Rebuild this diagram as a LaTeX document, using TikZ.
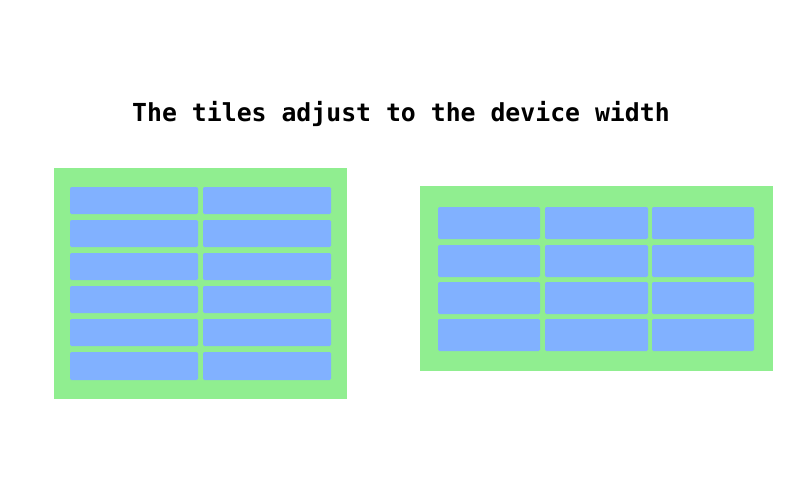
\documentclass[tikz,border=0pt]{standalone}
\usepackage{fontspec}
\setmonofont{DejaVu Sans Mono}
\usepackage{xcolor}
\definecolor{panelgreen}{RGB}{144,238,144}
\definecolor{tileblue}{RGB}{129,177,255}

\begin{document}
\begin{tikzpicture}[x=0.75pt,y=0.75pt,yscale=-1,xscale=1,
  panel/.style={fill=panelgreen,draw=none},
  tile/.style={fill=tileblue,draw=none,rounded corners=1}]
%set diagram left start at 0, and has height of 500
\path (0,0) rectangle (800,500);

% Text Node
\node (title) at (401,114) {\fontsize{18.6}{22}\selectfont\ttfamily\bfseries The tiles adjust to the device width};

%Shape: Rectangle [narrow device]
\fill [panel] (54,168) rectangle (347,399);
%Shape: Rectangle [narrow tiles, left column]
\fill [tile] (70,187) rectangle (198,214);
\fill [tile] (70,220) rectangle (198,247);
\fill [tile] (70,253) rectangle (198,280);
\fill [tile] (70,286) rectangle (198,313);
\fill [tile] (70,319) rectangle (198,346);
\fill [tile] (70,352) rectangle (198,380);
%Shape: Rectangle [narrow tiles, right column]
\fill [tile] (203,187) rectangle (331,214);
\fill [tile] (203,220) rectangle (331,247);
\fill [tile] (203,253) rectangle (331,280);
\fill [tile] (203,286) rectangle (331,313);
\fill [tile] (203,319) rectangle (331,346);
\fill [tile] (203,352) rectangle (331,380);

%Shape: Rectangle [wide device]
\fill [panel] (420,186) rectangle (773,371);
%Shape: Rectangle [wide tiles, first column]
\fill [tile] (438,207) rectangle (540,239);
\fill [tile] (438,245) rectangle (540,277);
\fill [tile] (438,282) rectangle (540,314);
\fill [tile] (438,319) rectangle (540,351);
%Shape: Rectangle [wide tiles, second column]
\fill [tile] (545,207) rectangle (648,239);
\fill [tile] (545,245) rectangle (648,277);
\fill [tile] (545,282) rectangle (648,314);
\fill [tile] (545,319) rectangle (648,351);
%Shape: Rectangle [wide tiles, third column]
\fill [tile] (652,207) rectangle (754,239);
\fill [tile] (652,245) rectangle (754,277);
\fill [tile] (652,282) rectangle (754,314);
\fill [tile] (652,319) rectangle (754,351);

\end{tikzpicture}
\end{document}
